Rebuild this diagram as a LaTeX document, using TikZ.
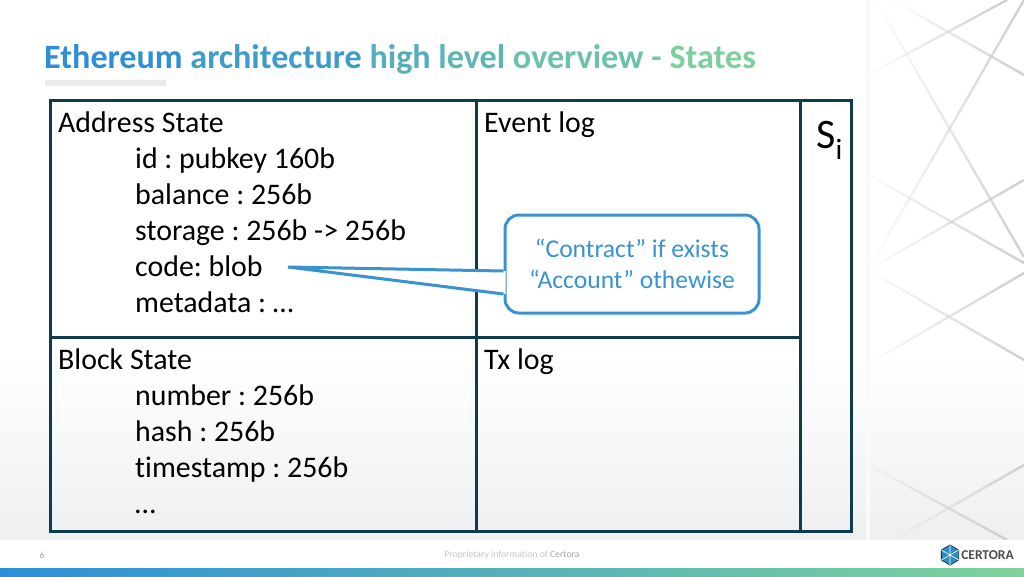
\documentclass[tikz,border=0pt]{standalone}
\usepackage{fontspec}
\setmainfont{Carlito}[Ligatures=NoCommon]
\frenchspacing
\usetikzlibrary{positioning,shapes.geometric,fadings}

\definecolor{frameblue}{HTML}{0F3B50}
\definecolor{calloutblue}{HTML}{3A93CF}
\definecolor{barblue}{HTML}{2E8FD6}
\definecolor{bargreen}{HTML}{7FD29C}
\definecolor{latticegray}{HTML}{CFCFCF}
\definecolor{logoblue}{HTML}{2F8FC4}
\definecolor{floorgray}{HTML}{EDEFF1}

\tikzfading[name=latticefade, left color=transparent!100, right color=transparent!0]

\tikzset{
    cell/.style={rectangle, draw=frameblue, line width=3pt, outer sep=0pt, inner sep=0pt},
    celltext/.style={anchor=north west, align=left, inner sep=0pt, font=\fontsize{29.87}{36}\selectfont},
    calloutbox/.style={rectangle, rounded corners=14pt, draw=calloutblue, line width=3pt, fill=white,
        minimum width=254pt, minimum height=98pt, align=center, text=calloutblue,
        font=\fontsize{25.6}{30.5}\selectfont},
    footertext/.style={inner sep=0pt, font=\fontsize{9.7}{12}\selectfont},
    lattice/.style={draw=latticegray, line width=2.4pt, path fading=latticefade, fit fading=true}
}

\newcommand{\ttlword}[2]{\textcolor{bargreen!#1!barblue}{#2}}

\begin{document}
\begin{tikzpicture}[x=1pt, y=-1pt]
    \useasboundingbox (0,0) rectangle (1024,576);

    % Background
    \fill[white] (0,0) rectangle (1024,576);
    \fill[top color=white, bottom color=floorgray] (0,360) rectangle (1024,540);
    \fill[black!2] (866,0) rectangle (870,540);
    \foreach \xa/\ya/\xb/\yb in {875/0/1024/257, 868/270/1024/0, 892/0/1024/75, 868/75/1007/0,
        860/170/1024/263, 868/270/1024/180, 868/270/1024/360, 870/363/1024/273,
        860/460/1007/540, 893/540/1024/465} {
        \path[lattice] (\xa,\ya) -- (\xb,\yb);
    }

    % Footer bar
    \fill[white] (0,540) rectangle (1024,568);
    \fill[left color=barblue, right color=bargreen] (0,568) rectangle (1024,576);

    % Title
    \node [anchor=base west, inner sep=0pt, font=\fontsize{34.13}{40}\selectfont\bfseries] (title) at (44,68)
        {\ttlword{0}{Ethereum} \ttlword{20}{architecture} \ttlword{48}{high} \ttlword{58}{level} \ttlword{75}{overview} \ttlword{88}{-} \ttlword{97}{States}};
    \fill[black!8] (45,80) rectangle (166,86);

    % Main cells
    \node [cell, minimum width=426pt, minimum height=237pt, anchor=north west] (addr) at (50,100) {};
    \node [cell, minimum width=324pt, minimum height=237pt, right=0pt of addr] (event) {};
    \node [cell, minimum width=426pt, minimum height=194pt, below=0pt of addr] (block) {};
    \node [cell, minimum width=324pt, minimum height=194pt, below=0pt of event] (tx) {};
    \node [cell, minimum width=51pt, minimum height=431pt, anchor=north west] (si) at (event.north east) {};

    % Cell texts
    \node [celltext] (addrtext) at (58,112) {Address State\\
        \hspace*{77pt}id : pubkey 160b\\
        \hspace*{77pt}balance : 256b\\
        \hspace*{77pt}storage : 256b -> 256b\\
        \hspace*{77pt}code: blob\\
        \hspace*{77pt}metadata : …};
    \node [celltext] (eventtext) at (484,112) {Event log};
    \node [celltext] (blocktext) at (58,349) {Block State\\
        \hspace*{77pt}number : 256b\\
        \hspace*{77pt}hash : 256b\\
        \hspace*{77pt}timestamp : 256b\\
        \hspace*{77pt}…};
    \node [celltext] (txtext) at (484,349) {Tx log};
    \node [anchor=base west, inner sep=0pt, font=\fontsize{42}{44}\selectfont] (sitext) at (816,148) {S\textsubscript{i}};

    % Callout
    \node [calloutbox] (callout) at (632,264) {“Contract” if exists\\“Account” othewise};
    \coordinate (codetip) at (288,267);
    \fill[white] (codetip) -- ([yshift=-7pt,xshift=2pt]callout.west) -- ([yshift=-30pt,xshift=2pt]callout.west) -- cycle;
    \draw[calloutblue, line width=3pt, line join=miter] ([yshift=-7pt]callout.west) -- (codetip) -- ([yshift=-30pt]callout.west);

    % Footer
    \node [footertext, text=black!35] (pagenum) at (42,555) {6};
    \node [footertext, text=black!22] (notice) at (512,555) {Proprietary information of \textcolor{black!35}{Certora}};
    \node [regular polygon, regular polygon sides=6, shape border rotate=30, draw=frameblue, fill=logoblue, line width=0.8pt,
        minimum size=20pt, inner sep=0pt] (logo) at (950,555) {};
    \draw[white, line width=0.6pt] (logo.corner 1) -- (logo.corner 4) (logo.corner 2) -- (logo.corner 5) (logo.corner 3) -- (logo.corner 6);
    \node [right=2pt of logo, inner sep=0pt, text=black!70, font=\fontsize{13.5}{16}\selectfont\bfseries] (logotext) {CERTORA};
\end{tikzpicture}
\end{document}
